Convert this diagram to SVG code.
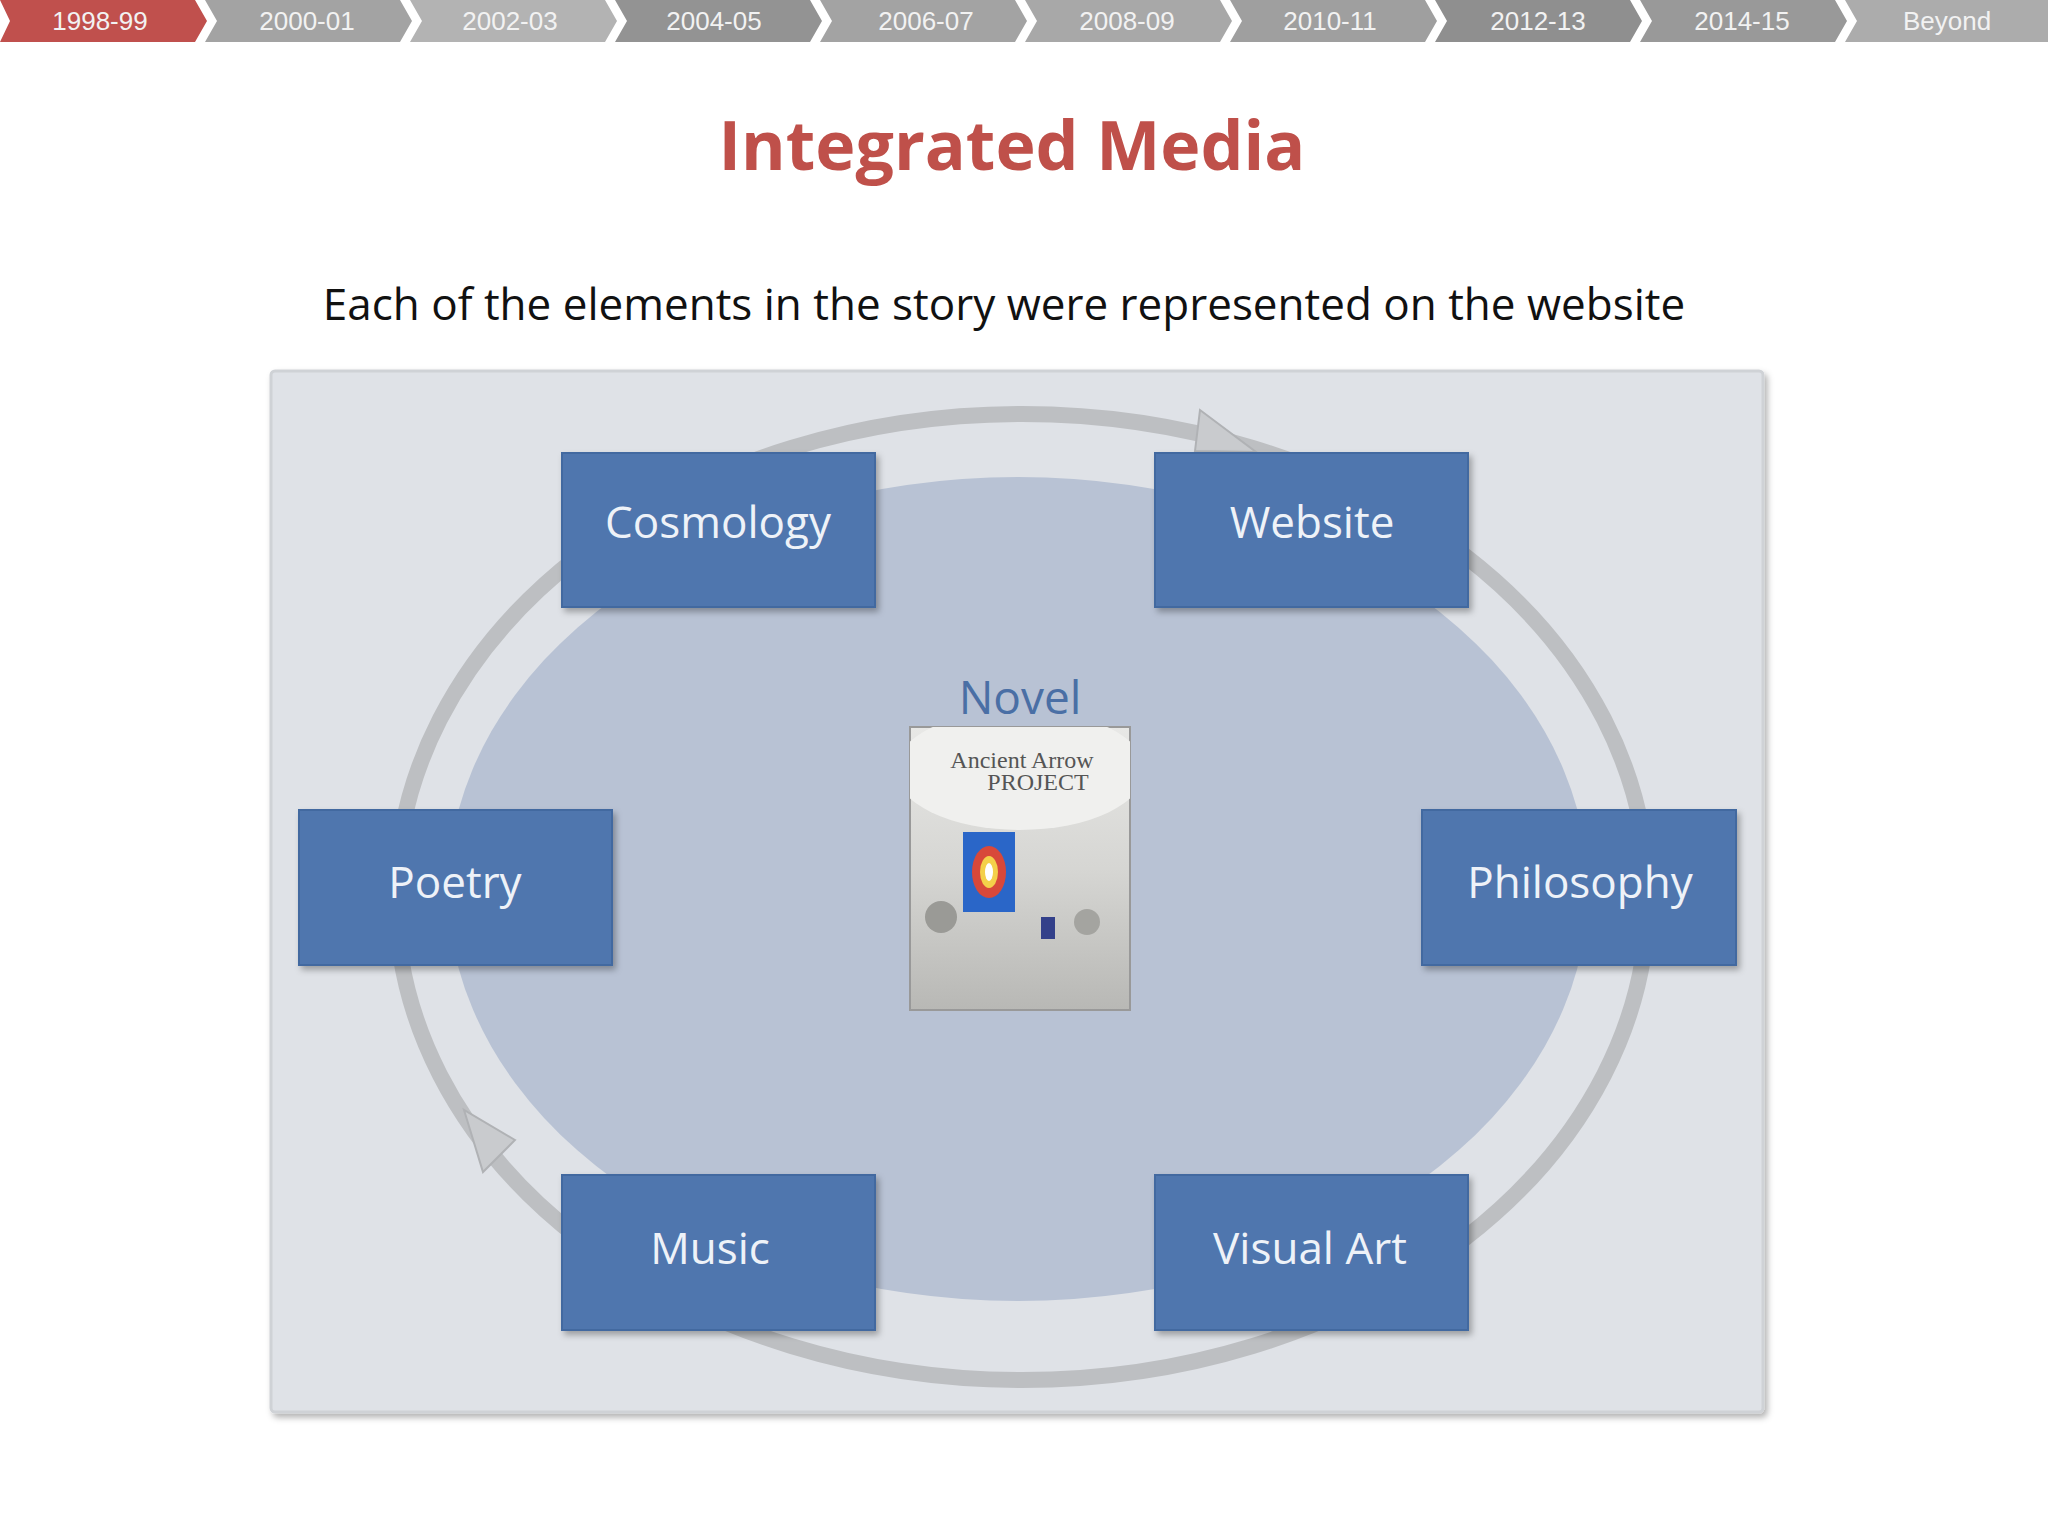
<svg xmlns="http://www.w3.org/2000/svg" width="2048" height="1536" viewBox="0 0 2048 1536">
<defs>
<style>
.tab{font-family:"Liberation Sans",Arial,sans-serif;font-size:26px;fill:#f2f2f2;text-anchor:middle}
.box{fill:#4f76ae;stroke:#4269a0;stroke-width:2}
.bt{font-family:"Open Sans","Noto Sans",sans-serif;font-size:44px;fill:#eef2f8;text-anchor:middle}
</style>
<filter id="sh" x="-10%" y="-10%" width="130%" height="130%"><feDropShadow dx="3" dy="4" stdDeviation="3" flood-color="#000" flood-opacity="0.3"/></filter>
<linearGradient id="bk" x1="0" y1="0" x2="0" y2="1"><stop offset="0" stop-color="#e8e8e6"/><stop offset="0.5" stop-color="#d6d6d3"/><stop offset="1" stop-color="#b8b8b5"/></linearGradient>
<clipPath id="bc"><rect x="910" y="727" width="220" height="283"/></clipPath>
</defs>
<rect width="2048" height="1536" fill="#fff"/>
<g id="tabs">
<polygon points="0,0 195,0 207,21 195,42 0,42 10,21" fill="#c0504d"/>
<polygon points="205,0 400,0 412,21 400,42 205,42 217,21" fill="#a3a3a3"/>
<polygon points="410,0 605,0 617,21 605,42 410,42 422,21" fill="#b3b3b3"/>
<polygon points="615,0 810,0 822,21 810,42 615,42 627,21" fill="#939393"/>
<polygon points="820,0 1015,0 1027,21 1015,42 820,42 832,21" fill="#a3a3a3"/>
<polygon points="1025,0 1220,0 1232,21 1220,42 1025,42 1037,21" fill="#a8a8a8"/>
<polygon points="1230,0 1425,0 1437,21 1425,42 1230,42 1242,21" fill="#9f9f9f"/>
<polygon points="1435,0 1630,0 1642,21 1630,42 1435,42 1447,21" fill="#8f8f8f"/>
<polygon points="1640,0 1835,0 1847,21 1835,42 1640,42 1652,21" fill="#999"/>
<polygon points="1845,0 2048,0 2048,42 1845,42 1857,21" fill="#acacac"/>
<text class="tab" x="100" y="30">1998-99</text>
<text class="tab" x="307" y="30">2000-01</text>
<text class="tab" x="510" y="30">2002-03</text>
<text class="tab" x="714" y="30">2004-05</text>
<text class="tab" x="926" y="30">2006-07</text>
<text class="tab" x="1127" y="30">2008-09</text>
<text class="tab" x="1330" y="30">2010-11</text>
<text class="tab" x="1538" y="30">2012-13</text>
<text class="tab" x="1742" y="30">2014-15</text>
<text class="tab" x="1947" y="30">Beyond</text>
</g>
<text x="1012" y="170" font-family="'Open Sans','Noto Sans',sans-serif" font-size="68" font-weight="bold" fill="#bf504a" text-anchor="middle">Integrated Media</text>
<text x="1004" y="320" font-family="'Open Sans','Noto Sans',sans-serif" font-size="44" fill="#111" text-anchor="middle">Each of the elements in the story were represented on the website</text>
<g id="panel">
<rect x="271" y="371" width="1492" height="1041" fill="#dfe2e7" stroke="#cfd2d6" stroke-width="3" rx="4" filter="url(#sh)"/>
<ellipse cx="1018" cy="889" rx="570" ry="412" fill="#b8c2d4"/>
</g>
<g id="connectors">
<ellipse cx="1022" cy="897" rx="626" ry="483" fill="none" stroke="#bdbfc2" stroke-width="16"/>
<polygon points="1195,451 1200,410 1256,452" fill="#c9cbce" stroke="#b0b2b5" stroke-width="2"/>
<polygon points="515,1140 464,1110 483,1172" fill="#c9cbce" stroke="#b0b2b5" stroke-width="2"/>
</g>
<g id="cosmology"><rect class="box" x="562" y="453" width="313" height="154" filter="url(#sh)"/><text class="bt" x="718" y="538">Cosmology</text></g>
<g id="website"><rect class="box" x="1155" y="453" width="313" height="154" filter="url(#sh)"/><text class="bt" x="1312" y="538">Website</text></g>
<g id="poetry"><rect class="box" x="299" y="810" width="313" height="155" filter="url(#sh)"/><text class="bt" x="455" y="898">Poetry</text></g>
<g id="philosophy"><rect class="box" x="1422" y="810" width="314" height="155" filter="url(#sh)"/><text class="bt" x="1580" y="898">Philosophy</text></g>
<g id="music"><rect class="box" x="562" y="1175" width="313" height="155" filter="url(#sh)"/><text class="bt" x="710" y="1264">Music</text></g>
<g id="visualart"><rect class="box" x="1155" y="1175" width="313" height="155" filter="url(#sh)"/><text class="bt" x="1310" y="1264">Visual Art</text></g>
<g id="novel">
<text x="1020" y="714" font-family="'Open Sans','Noto Sans',sans-serif" font-size="46" fill="#4a6fa5" text-anchor="middle">Novel</text>
<rect x="910" y="727" width="220" height="283" fill="url(#bk)" stroke="#999" stroke-width="2"/>
<ellipse cx="1020" cy="770" rx="125" ry="60" fill="#f0f0ee" clip-path="url(#bc)"/>
<text x="1022" y="768" font-family="'Liberation Serif',serif" font-size="24" fill="#555" text-anchor="middle">Ancient Arrow</text>
<text x="1038" y="790" font-family="'Liberation Serif',serif" font-size="24" fill="#555" text-anchor="middle">PROJECT</text>
<rect x="963" y="832" width="52" height="80" fill="#2a66c8"/>
<ellipse cx="989" cy="872" rx="17" ry="26" fill="#d8483a"/>
<ellipse cx="989" cy="872" rx="9" ry="16" fill="#f4d04a"/>
<ellipse cx="989" cy="872" rx="4" ry="9" fill="#fff"/>
<circle cx="941" cy="917" r="16" fill="#9a9a96"/>
<circle cx="1087" cy="922" r="13" fill="#a4a4a0"/>
<rect x="1041" y="917" width="14" height="22" fill="#33408a"/>
</g>
</svg>
